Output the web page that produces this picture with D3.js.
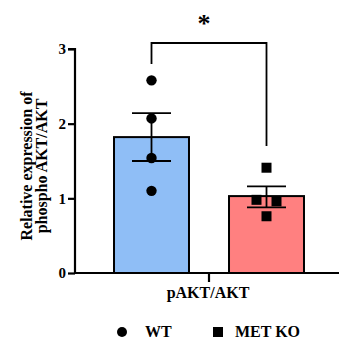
<!DOCTYPE html>
<html>
<head>
<meta charset="utf-8">
<script src="https://cdn.jsdelivr.net/npm/d3@7"></script>
<style>
  body { margin: 0; background: #fff; }
</style>
</head>
<body>
<svg width="339" height="343"></svg>
<script>
// datos
const groups = ["WT", "MET KO"];
const means = [1.82, 1.03];
const semLow = [1.50, 0.88];
const semHigh = [2.14, 1.16];
const wtPoints = [2.58, 2.07, 1.54, 1.10];
const koPoints = [1.41, 0.98, 0.96, 0.76];
const koOffsets = [0, -1, 1, 0];
const yTicks = [0, 1, 2, 3];
const colors = ["#8fbef6", "#ff8080"];

const serif = "'Liberation Serif', 'Times New Roman', Times, 'DejaVu Serif', serif";

const svg = d3.select("svg");

// escalas
const y = d3.scaleLinear().domain([0, 3]).range([273, 49]);
const x = d3.scaleBand().domain(groups).range([94, 324]).paddingInner(0.348).paddingOuter(0.174);
const jitter = 10;

// barras
svg.selectAll(".bar")
  .data(groups)
  .enter()
  .append("rect")
  .attr("x", d => x(d))
  .attr("y", (d, i) => y(means[i]))
  .attr("width", x.bandwidth())
  .attr("height", (d, i) => y(0) - y(means[i]))
  .attr("fill", (d, i) => colors[i])
  .attr("stroke", "black")
  .attr("stroke-width", 2);

// barras de error
groups.forEach((g, i) => {
  const cx = x(g) + x.bandwidth() / 2;
  svg.append("line")
    .attr("x1", cx).attr("x2", cx)
    .attr("y1", y(semLow[i])).attr("y2", y(semHigh[i]))
    .attr("stroke", "black").attr("stroke-width", 1.8);
  [semLow[i], semHigh[i]].forEach(v => {
    svg.append("line")
      .attr("x1", cx - 19.5).attr("x2", cx + 19.5)
      .attr("y1", y(v)).attr("y2", y(v))
      .attr("stroke", "black").attr("stroke-width", 1.8);
  });
});

// puntos WT
const wtX = x("WT") + x.bandwidth() / 2;
svg.selectAll(".wt")
  .data(wtPoints)
  .enter()
  .append("circle")
  .attr("cx", wtX)
  .attr("cy", d => y(d))
  .attr("r", 5.2)
  .attr("fill", "black");

// puntos MET KO
const koX = x("MET KO") + x.bandwidth() / 2;
svg.selectAll(".ko")
  .data(koPoints)
  .enter()
  .append("rect")
  .attr("x", (d, i) => koX + koOffsets[i] * jitter - 5)
  .attr("y", d => y(d) - 5)
  .attr("width", 10)
  .attr("height", 10)
  .attr("fill", "black");

// eje y
const yAxis = svg.append("g")
  .attr("transform", "translate(75,0)")
  .call(d3.axisLeft(y).tickValues(yTicks).tickFormat(d3.format("d")).tickSize(7).tickPadding(2));
yAxis.attr("font-family", null);
yAxis.select(".domain").attr("stroke-width", 2.2).attr("d", `M-7,${y(3)}H0V${y(0)}`);
yAxis.selectAll(".tick line").attr("stroke-width", 2.2);
yAxis.selectAll(".tick text")
  .style("font-size", "15px")
  .style("font-family", serif)
  .style("font-weight", "bold")
  .attr("fill", "black");

// eje x
svg.append("line")
  .attr("x1", 74).attr("x2", 339)
  .attr("y1", y(0)).attr("y2", y(0))
  .attr("stroke", "black").attr("stroke-width", 2.2);
svg.append("line")
  .attr("x1", 209).attr("x2", 209)
  .attr("y1", y(0)).attr("y2", y(0) + 9)
  .attr("stroke", "black").attr("stroke-width", 2.2);

function label(sel, size) {
  return sel.style("font-family", serif).style("font-weight", "bold").style("font-size", size + "px").attr("fill", "black");
}

label(svg.append("text"), 16)
  .attr("x", 208).attr("y", 298)
  .attr("text-anchor", "middle")
  .text("pAKT/AKT");

// etiqueta eje y
const yLabel = label(svg.append("text"), 16)
  .attr("transform", "translate(0,166) rotate(-90)")
  .attr("text-anchor", "middle");
yLabel.append("tspan").attr("x", 0).attr("y", 32).text("Relative expression of");
yLabel.append("tspan").attr("x", 0).attr("y", 47).text("phospho AKT/AKT");

// corchete de significancia
svg.append("path")
  .attr("d", `M${wtX},64V43H${koX}V146`)
  .attr("fill", "none")
  .attr("stroke", "black")
  .attr("stroke-width", 1.8);
label(svg.append("text"), 26)
  .attr("x", 204).attr("y", 32)
  .attr("text-anchor", "middle")
  .text("*");

// leyenda
svg.append("circle").attr("cx", 122).attr("cy", 332).attr("r", 5).attr("fill", "black");
label(svg.append("text"), 16).attr("x", 145).attr("y", 337).text("WT");
svg.append("rect").attr("x", 213).attr("y", 327).attr("width", 10).attr("height", 10).attr("fill", "black");
label(svg.append("text"), 16).attr("x", 235).attr("y", 337).text("MET KO");
</script>
</body>
</html>
